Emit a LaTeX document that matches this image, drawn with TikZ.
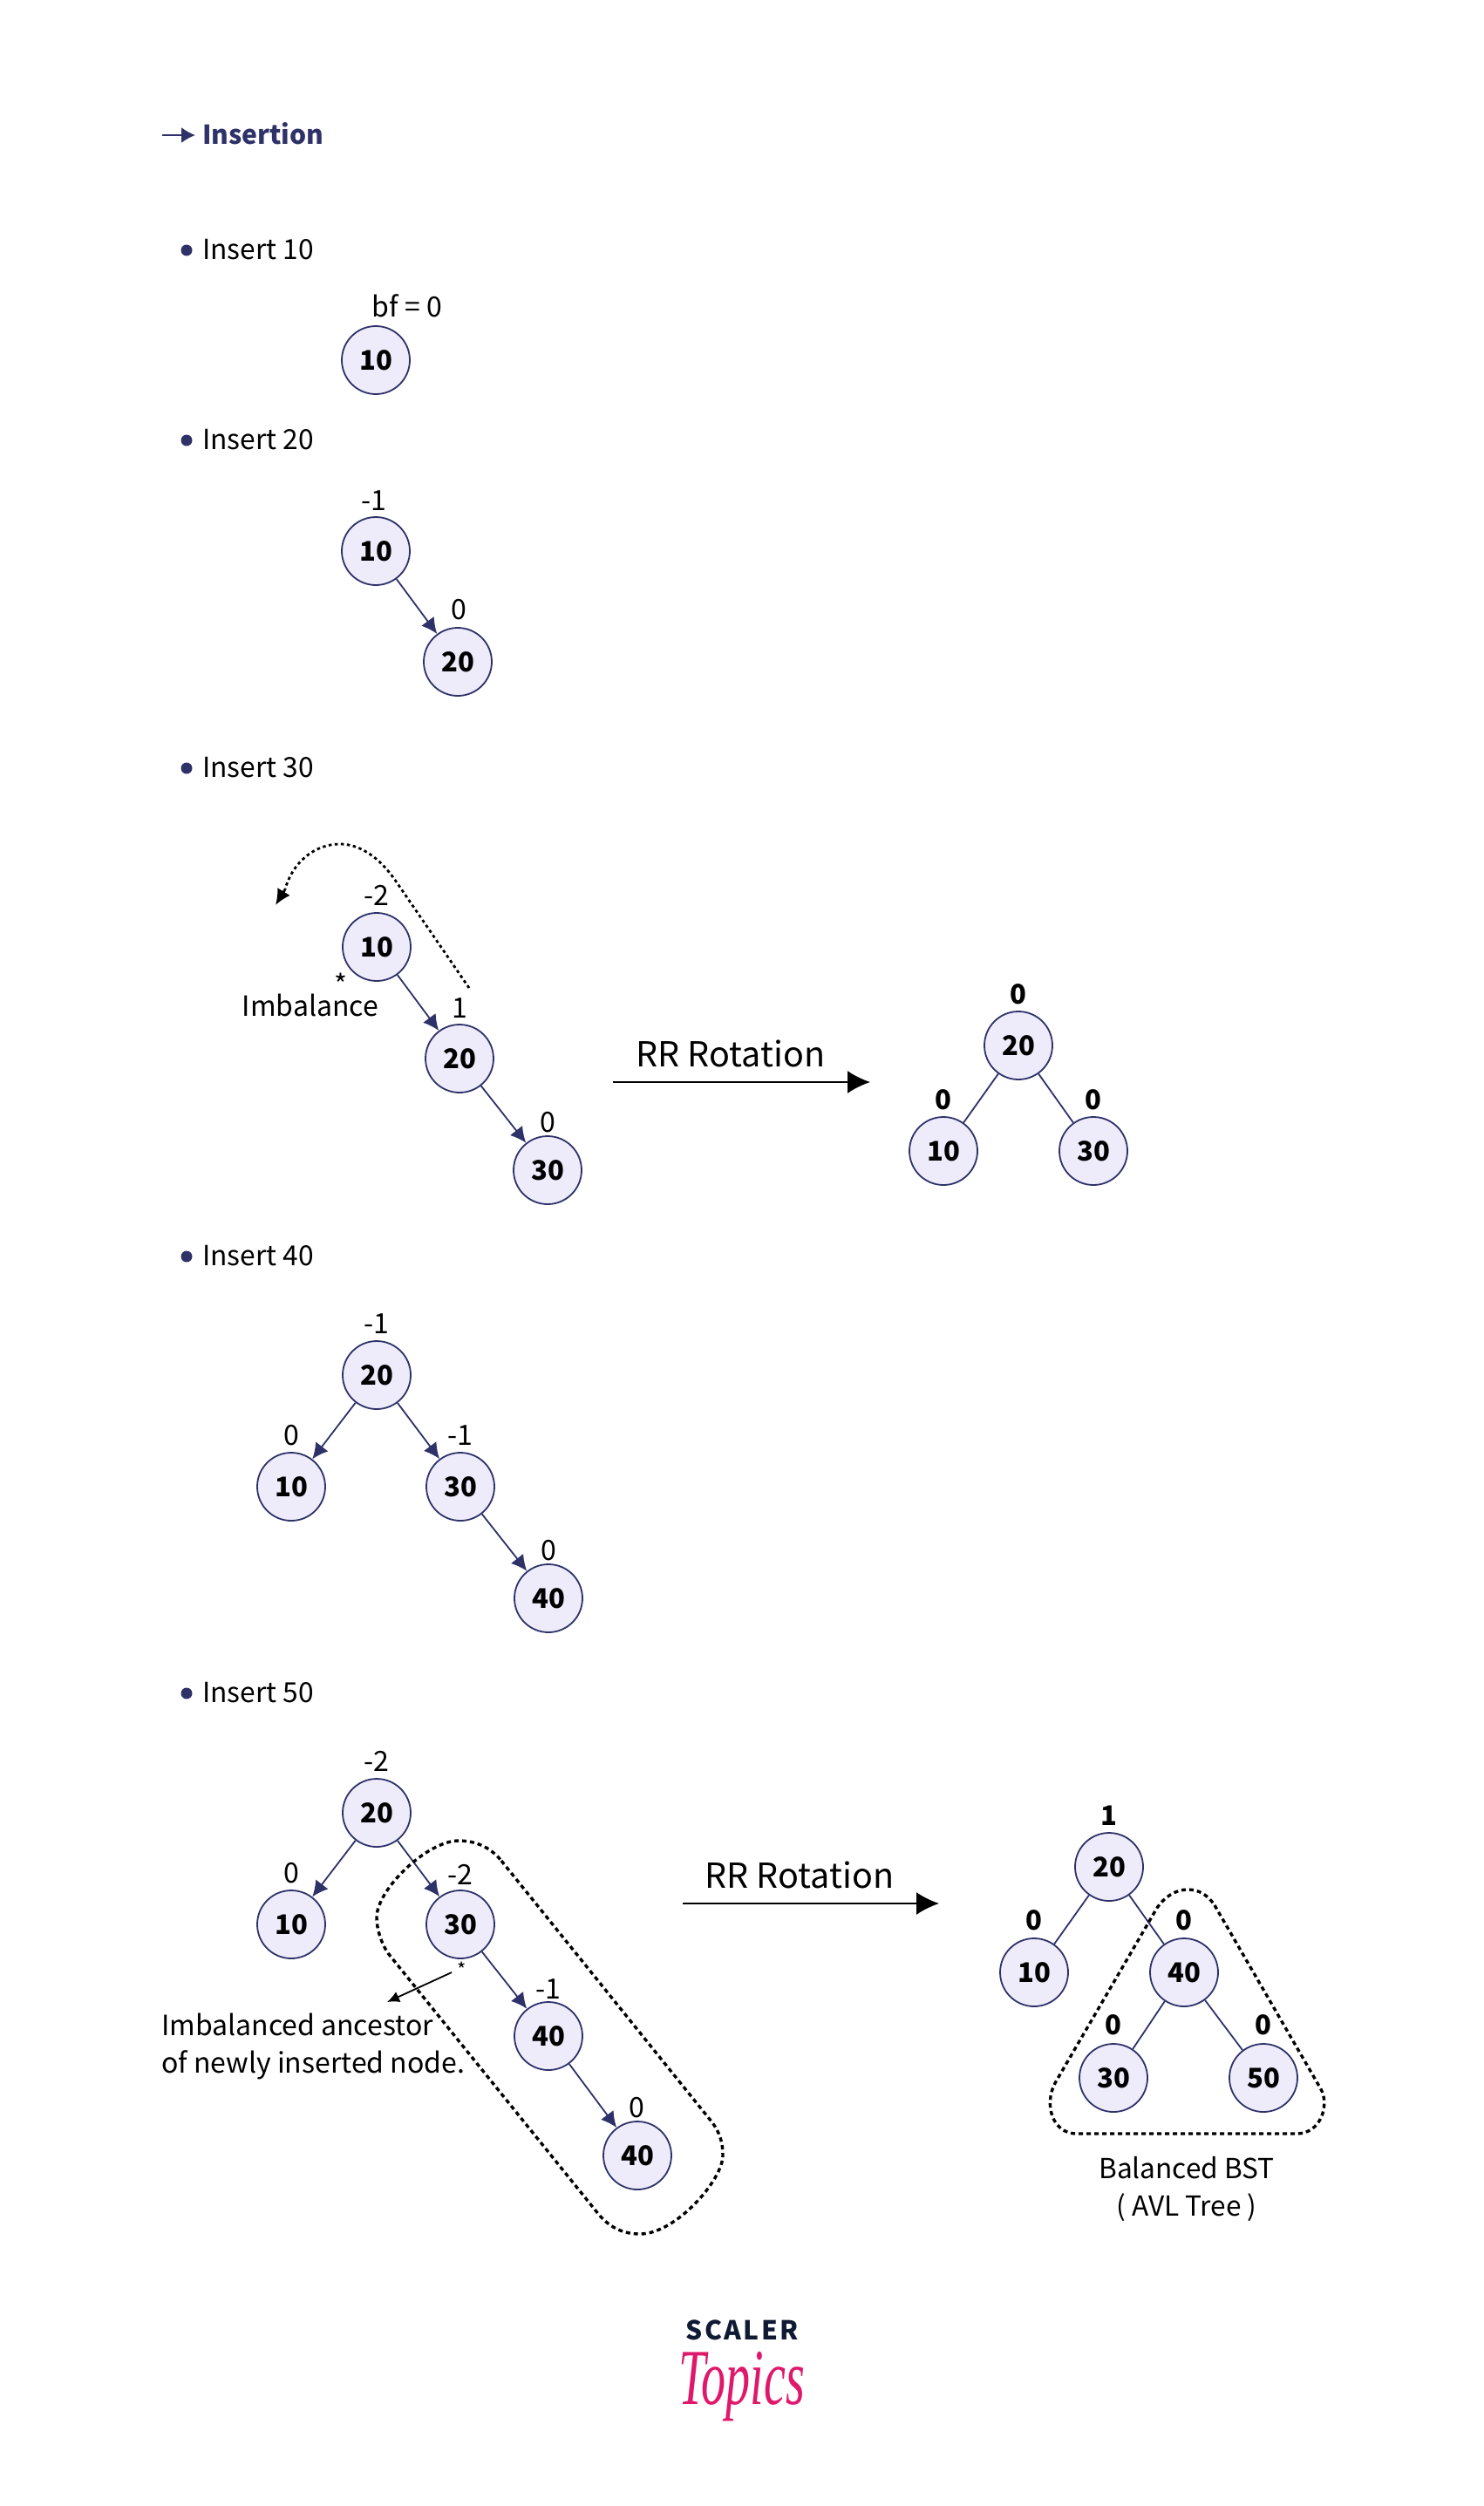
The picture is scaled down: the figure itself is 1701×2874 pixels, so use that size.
\documentclass[tikz,border=0pt]{standalone}
\usepackage{fontspec}
\setmainfont{Noto Sans CJK SC}
\newfontfamily\logofont{Liberation Serif}
\usetikzlibrary{arrows.meta}
\definecolor{navy}{HTML}{2E3268}
\definecolor{nodefill}{HTML}{EEECFB}
\definecolor{logodark}{HTML}{101B33}
\definecolor{logopink}{HTML}{E0186C}
\tikzset{
    treenode/.style={circle,draw=navy,fill=nodefill,line width=1.8pt,minimum size=78pt,inner sep=0pt,font=\fontsize{31}{36}\selectfont\bfseries},
    bal/.style={inner sep=0pt,text depth=0pt,font=\fontsize{32}{36}\selectfont},
    balbold/.style={bal,font=\fontsize{31}{36}\selectfont\bfseries},
    heading/.style={anchor=west,inner sep=0pt,text depth=0pt,font=\fontsize{31.7}{38}\selectfont},
    bulletdot/.style={circle,fill=navy,minimum size=13pt,inner sep=0pt},
    note/.style={inner sep=0pt,text depth=0pt,font=\fontsize{32}{40}\selectfont},
    rotlabel/.style={inner sep=0pt,text depth=0pt,font=\fontsize{39.5}{48}\selectfont},
    link/.style={draw=navy,line width=1.8pt},
    linkarrow/.style={link,-{Latex[length=18pt,width=18pt]}},
    rotarrow/.style={draw=black,line width=1.8pt,-{Latex[length=26pt,width=26pt]}},
    dottedline/.style={draw=black,line width=3.4pt,dash pattern=on 5pt off 4pt},
}
\begin{document}
\begin{tikzpicture}[x=1pt,y=-1pt]
    \useasboundingbox[fill=white] (0,0) rectangle (1701,2874);

    % title
    \coordinate (titlefrom) at (186,155);
    \coordinate (titleto) at (224,155);
    \draw[navy,line width=1.8pt,-{Latex[length=16pt,width=18pt]}] (titlefrom) -- (titleto);
    \node[heading,text=navy,font=\fontsize{30}{40}\selectfont\bfseries] (title) at (232,153) {Insertion};

    % insert 10
    \node[bulletdot] (dota) at (214,287) {};
    \node[heading] (heada) at (232,286) {Insert 10};
    \node[treenode] (aten) at (431,413) {10};
    \node[bal] (abf) at (467,351) {bf = 0};

    % insert 20
    \node[bulletdot] (dotb) at (214,505) {};
    \node[heading] (headb) at (232,504) {Insert 20};
    \node[treenode] (bten) at (431,632) {10};
    \node[treenode] (btwenty) at (525,759) {20};
    \node[bal] (bbfa) at (429,574) {-1};
    \node[bal] (bbfb) at (526,699) {0};
    \draw[linkarrow] (bten) -- (btwenty);

    % insert 30
    \node[bulletdot] (dotc) at (214,881) {};
    \node[heading] (headc) at (232,880) {Insert 30};
    \node[treenode] (cten) at (432,1086) {10};
    \node[treenode] (ctwenty) at (527,1214) {20};
    \node[treenode] (cthirty) at (628,1342) {30};
    \node[bal] (cbfa) at (432,1027) {-2};
    \node[bal] (cbfb) at (527,1156) {1};
    \node[bal] (cbfc) at (628,1287) {0};
    \draw[linkarrow] (cten) -- (ctwenty);
    \draw[linkarrow] (ctwenty) -- (cthirty);
    \node[bal] (cstar) at (391,1129) {*};
    \node[note] (cnote) at (356,1153) {Imbalance};
    \coordinate (cfrom) at (538,1133);
    \coordinate (cto) at (316,1038);
    \coordinate (cneck) at (327,1020);
    \draw[dottedline,line width=2.8pt,dash pattern=on 3.5pt off 3.5pt] (cfrom) -- (455,1012) .. controls (430,975) and (405,968) .. (390,968) .. controls (360,968) and (335,990) .. (cneck);
    \draw[black,line width=2.8pt,-{Latex[length=18pt,width=17pt]}] (cneck) -- (cto);

    % rr rotation
    \node[rotlabel] (rota) at (838,1208) {RR Rotation};
    \coordinate (rotafrom) at (703,1241);
    \coordinate (rotato) at (998,1241);
    \draw[rotarrow] (rotafrom) -- (rotato);
    \node[treenode] (dtwenty) at (1168,1199) {20};
    \node[treenode] (dten) at (1082,1320) {10};
    \node[treenode] (dthirty) at (1254,1320) {30};
    \node[balbold] (dbfa) at (1168,1140) {0};
    \node[balbold] (dbfb) at (1082,1261) {0};
    \node[balbold] (dbfc) at (1254,1261) {0};
    \draw[link] (dtwenty) -- (dten);
    \draw[link] (dtwenty) -- (dthirty);

    % insert 40
    \node[bulletdot] (dote) at (214,1441) {};
    \node[heading] (heade) at (232,1440) {Insert 40};
    \node[treenode] (etwenty) at (432,1577) {20};
    \node[treenode] (eten) at (334,1705) {10};
    \node[treenode] (ethirty) at (528,1705) {30};
    \node[treenode] (eforty) at (629,1833) {40};
    \node[bal] (ebfa) at (432,1518) {-1};
    \node[bal] (ebfb) at (334,1646) {0};
    \node[bal] (ebfc) at (528,1646) {-1};
    \node[bal] (ebfd) at (629,1778) {0};
    \draw[linkarrow] (etwenty) -- (eten);
    \draw[linkarrow] (etwenty) -- (ethirty);
    \draw[linkarrow] (ethirty) -- (eforty);

    % insert 50
    \node[bulletdot] (dotf) at (214,1942) {};
    \node[heading] (headf) at (232,1941) {Insert 50};
    \node[treenode] (ftwenty) at (432,2079) {20};
    \node[treenode] (ften) at (334,2207) {10};
    \node[treenode] (fthirty) at (528,2207) {30};
    \node[treenode] (fforty) at (629,2335) {40};
    \node[treenode] (flast) at (731,2472) {40};
    \node[bal] (fbfa) at (432,2020) {-2};
    \node[bal] (fbfb) at (334,2148) {0};
    \node[bal] (fbfc) at (528,2150) {-2};
    \node[bal] (fbfd) at (629,2281) {-1};
    \node[bal] (fbfe) at (730,2417) {0};
    \draw[linkarrow] (ftwenty) -- (ften);
    \draw[linkarrow] (ftwenty) -- (fthirty);
    \draw[linkarrow] (fthirty) -- (fforty);
    \draw[linkarrow] (fforty) -- (flast);
    \draw[dottedline] (575,2134) -- (816,2433) .. controls (826,2446) and (829,2458) .. (829,2472) .. controls (829,2500) and (775,2562) .. (734,2562) .. controls (715,2562) and (700,2555) .. (687,2540) -- (445,2240) .. controls (437,2228) and (432,2212) .. (432,2199) .. controls (432,2167) and (490,2111) .. (526,2111) .. controls (545,2111) and (562,2118) .. (575,2134) -- cycle;
    \node[inner sep=0pt,font=\fontsize{22}{24}\selectfont] (fstar) at (530,2259) {*};
    \coordinate (ffrom) at (518,2262);
    \coordinate (fto) at (444,2296);
    \draw[black,line width=1.8pt,-{Latex[length=14pt,width=13pt]}] (ffrom) -- (fto);
    \node[note,anchor=north west,align=left,font=\fontsize{32}{43}\selectfont] (fnote) at (185,2309) {Imbalanced ancestor\\of newly inserted node.};

    % second rr rotation
    \node[rotlabel] (rotb) at (917,2150) {RR Rotation};
    \coordinate (rotbfrom) at (783,2183);
    \coordinate (rotbto) at (1077,2183);
    \draw[rotarrow] (rotbfrom) -- (rotbto);
    \node[treenode] (gtwenty) at (1272,2141) {20};
    \node[treenode] (gten) at (1186,2262) {10};
    \node[treenode] (gforty) at (1358,2262) {40};
    \node[treenode] (gthirty) at (1277,2383) {30};
    \node[treenode] (gfifty) at (1449,2383) {50};
    \node[balbold] (gbfa) at (1272,2082) {1};
    \node[balbold] (gbfb) at (1186,2202) {0};
    \node[balbold] (gbfc) at (1358,2202) {0};
    \node[balbold] (gbfd) at (1277,2322) {0};
    \node[balbold] (gbfe) at (1449,2322) {0};
    \draw[link] (gtwenty) -- (gten);
    \draw[link] (gtwenty) -- (gforty);
    \draw[link] (gforty) -- (gthirty);
    \draw[link] (gforty) -- (gfifty);
    \draw[dottedline] (1393,2185) -- (1515,2396) .. controls (1525,2414) and (1515,2447) .. (1487,2447) -- (1235,2447) .. controls (1207,2447) and (1197,2414) .. (1210,2389) -- (1327,2188) .. controls (1335,2176) and (1348,2167) .. (1362,2167) .. controls (1375,2167) and (1385,2173) .. (1393,2185) -- cycle;
    \node[note,align=center,font=\fontsize{31.6}{43}\selectfont] (gnote) at (1361,2507) {Balanced BST\\( AVL Tree )};

    % logo
    \node[inner sep=0pt,text=logodark,font=\fontsize{30}{34}\selectfont\bfseries] (logotop) at (851,2672) {S\kern2.4pt C\kern2.4pt A\kern2.4pt L\kern2.4pt E\kern2.4pt R};
    \node[inner sep=0pt,text=logopink,xscale=.8,yscale=1.3,transform shape,font=\logofont\itshape\fontsize{70}{80}\selectfont] (logobottom) at (851,2737) {Topics};
\end{tikzpicture}
\end{document}
